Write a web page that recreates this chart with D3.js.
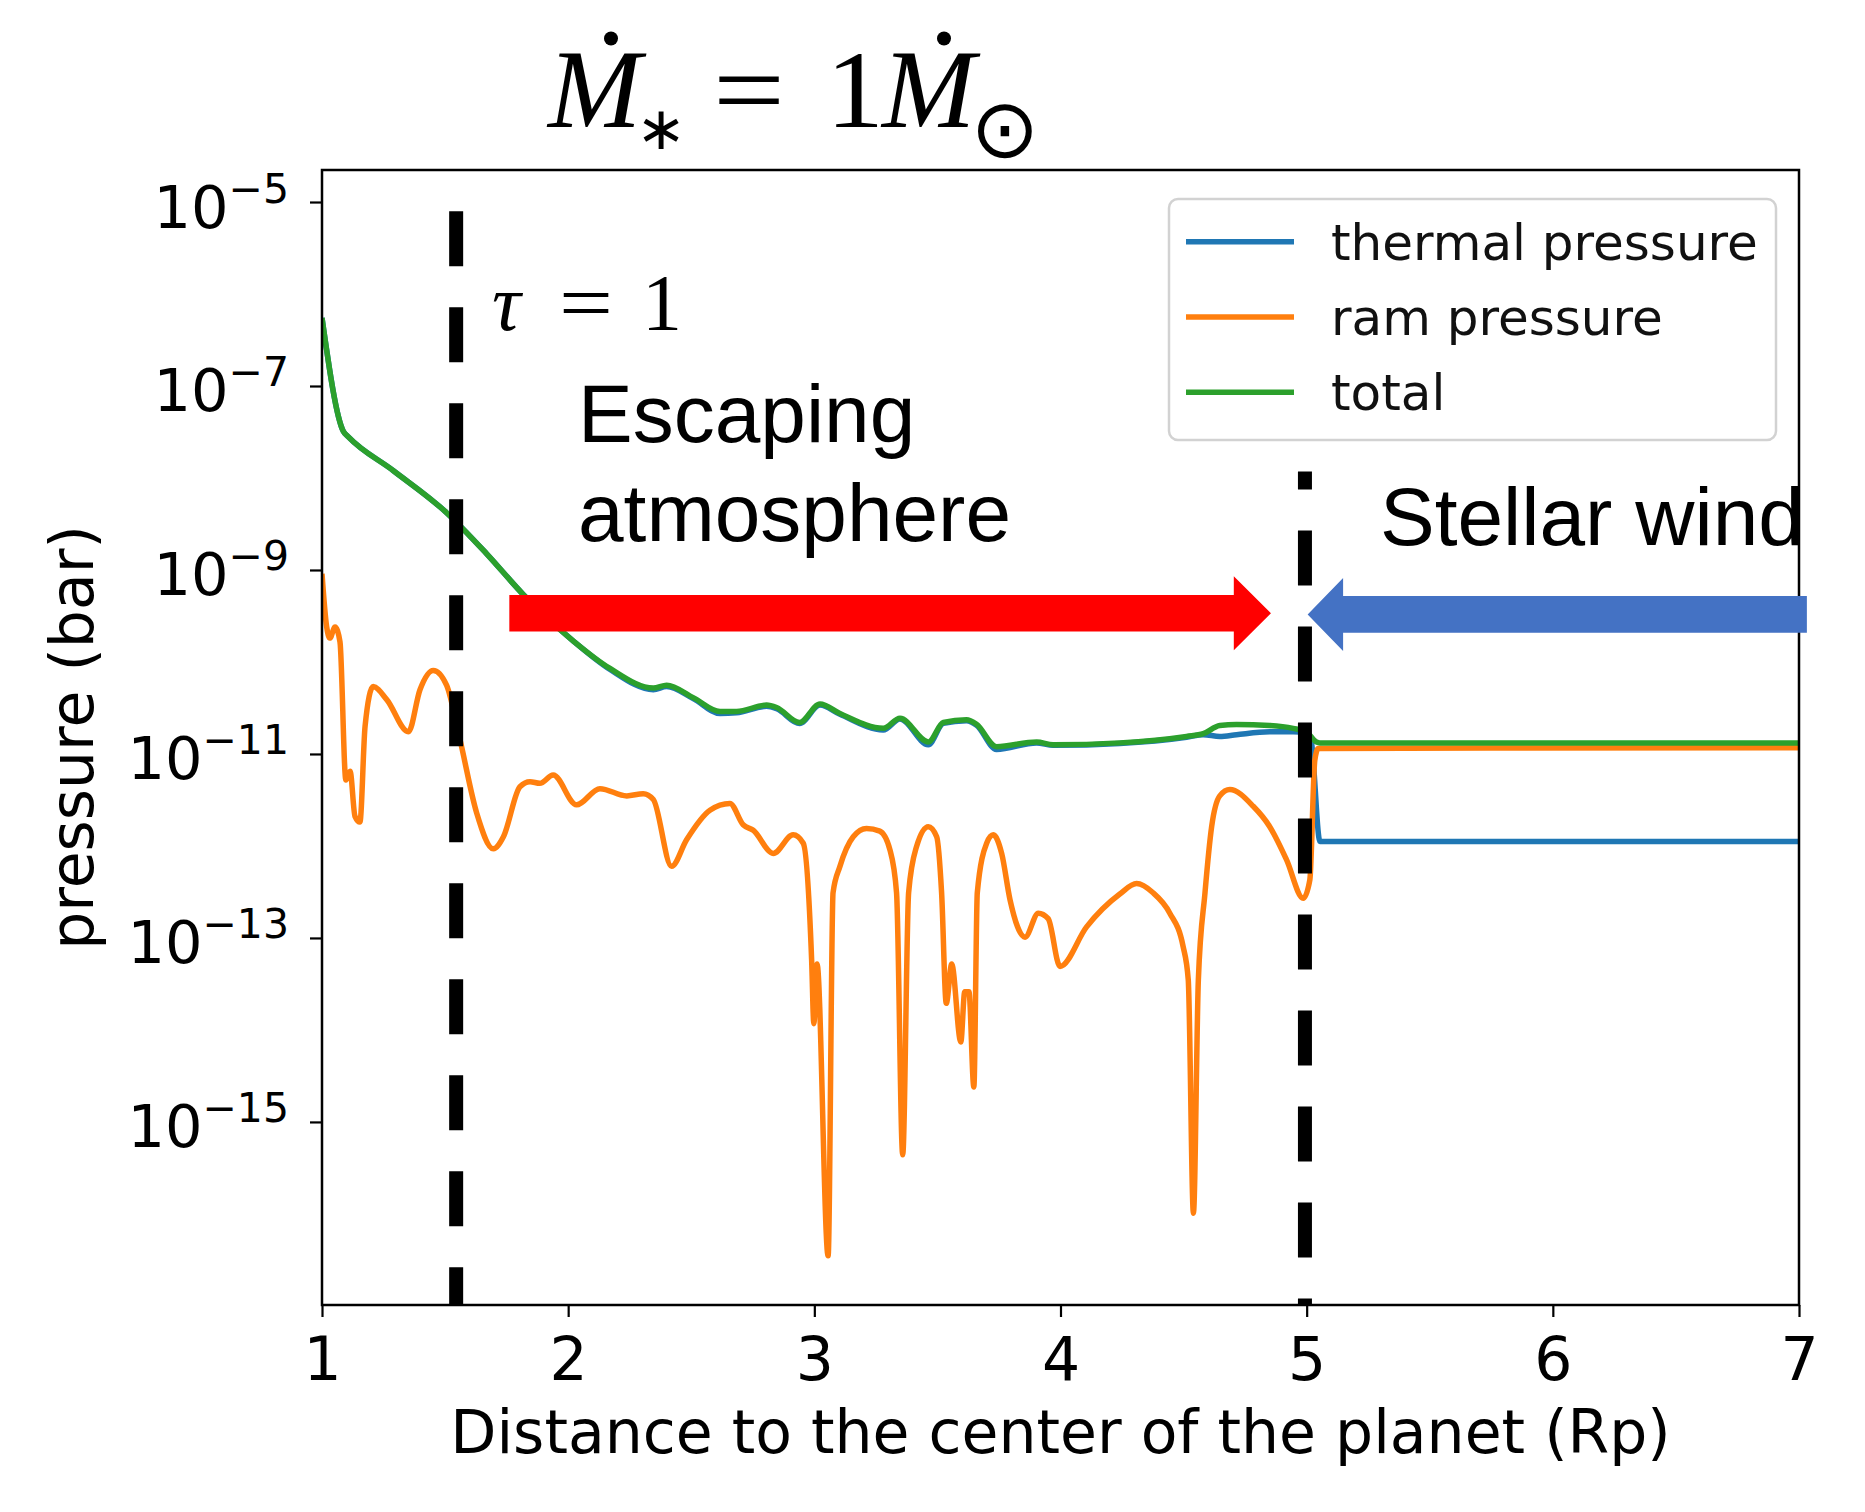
<!DOCTYPE html>
<html>
<head>
<meta charset="utf-8">
<script src="https://cdn.jsdelivr.net/npm/d3@7"></script>
<style>
  body { margin: 0; background: #fff; }
  svg { display: block; }
</style>
</head>
<body>
<div id="chart"></div>
<script>
// ---- data (x in Rp, pressure in bar) ----
var xTicks = [1, 2, 3, 4, 5, 6, 7];
var yTickExps = [-5, -7, -9, -11, -13, -15];

var totalX = [1.0, 1.087, 1.107, 1.29, 1.506, 1.669, 1.818, 2.02, 2.17, 2.346, 2.40, 2.508, 2.617, 2.684, 2.806, 2.847, 2.94, 3.023, 3.104, 3.28, 3.348, 3.463, 3.524, 3.618, 3.659, 3.74, 3.903, 3.97, 4.241, 4.512, 4.58, 4.647, 4.715, 4.85, 4.945, 4.999, 5.04, 5.054, 7.0];
var totalP = [5.5e-7, 3.2e-8, 2.8e-8, 1.2e-8, 4.2e-9, 1.5e-9, 5.4e-10, 1.7e-10, 8.5e-11, 5.2e-11, 5.6e-11, 4.1e-11, 2.9e-11, 2.9e-11, 3.4e-11, 3.2e-11, 2.2e-11, 3.5e-11, 2.75e-11, 1.9e-11, 2.45e-11, 1.35e-11, 2.2e-11, 2.35e-11, 2.1e-11, 1.2e-11, 1.35e-11, 1.26e-11, 1.32e-11, 1.55e-11, 1.66e-11, 2.04e-11, 2.09e-11, 2.04e-11, 1.9e-11, 1.74e-11, 1.35e-11, 1.32e-11, 1.32e-11];

var thermalX = [1.0, 1.087, 1.107, 1.29, 1.506, 1.669, 1.818, 2.02, 2.17, 2.346, 2.40, 2.508, 2.617, 2.684, 2.806, 2.847, 2.94, 3.023, 3.104, 3.28, 3.348, 3.463, 3.524, 3.618, 3.659, 3.74, 3.903, 3.97, 4.241, 4.512, 4.58, 4.647, 4.715, 4.85, 4.945, 4.999, 5.018, 5.054, 7.0];
var thermalP = [5.5e-7, 3.2e-8, 2.8e-8, 1.2e-8, 4.2e-9, 1.5e-9, 5.4e-10, 1.7e-10, 8.3e-11, 5.0e-11, 5.4e-11, 4.0e-11, 2.75e-11, 2.8e-11, 3.3e-11, 3.1e-11, 2.14e-11, 3.4e-11, 2.7e-11, 1.82e-11, 2.4e-11, 1.26e-11, 2.15e-11, 2.3e-11, 2.05e-11, 1.12e-11, 1.32e-11, 1.24e-11, 1.3e-11, 1.52e-11, 1.62e-11, 1.55e-11, 1.62e-11, 1.74e-11, 1.74e-11, 1.7e-11, 1.41e-11, 1.12e-12, 1.12e-12];

var ramX = [1.0, 1.019, 1.032, 1.053, 1.073, 1.097, 1.114, 1.134, 1.154, 1.175, 1.208, 1.263, 1.351, 1.398, 1.452, 1.506, 1.561, 1.628, 1.696, 1.737, 1.804, 1.845, 1.885, 1.939, 2.034, 2.129, 2.238, 2.305, 2.346, 2.42, 2.481, 2.576, 2.657, 2.711, 2.752, 2.833, 2.914, 2.955, 2.989, 2.998, 3.011, 3.056, 3.076, 3.104, 3.158, 3.212, 3.266, 3.307, 3.334, 3.359, 3.383, 3.415, 3.463, 3.497, 3.517, 3.536, 3.558, 3.595, 3.611, 3.628, 3.648, 3.662, 3.70, 3.727, 3.761, 3.795, 3.856, 3.91, 3.95, 3.998, 4.106, 4.241, 4.309, 4.376, 4.444, 4.498, 4.519, 4.54, 4.56, 4.587, 4.614, 4.647, 4.688, 4.783, 4.85, 4.918, 4.986, 5.013, 5.033, 5.047, 7.0];
var ramP = [9.1e-10, 2.4e-10, 1.82e-10, 2.4e-10, 1.66e-10, 5.2e-12, 6.5e-12, 2.1e-12, 1.82e-12, 2.0e-11, 5.4e-11, 3.9e-11, 1.74e-11, 5.0e-11, 8.1e-11, 5.6e-11, 1.41e-11, 2.3e-12, 9.3e-13, 1.26e-12, 4.4e-12, 5.0e-12, 4.8e-12, 5.9e-12, 2.8e-12, 4.2e-12, 3.5e-12, 3.7e-12, 3.2e-12, 6.0e-13, 1.17e-12, 2.45e-12, 2.9e-12, 1.7e-12, 1.48e-12, 8.3e-13, 1.32e-12, 1.07e-12, 5.8e-14, 1.17e-14, 5.2e-14, 3.5e-17, 3.1e-13, 6.0e-13, 1.26e-12, 1.55e-12, 1.45e-12, 9.1e-13, 3.1e-13, 4.4e-16, 3.1e-13, 9.8e-13, 1.62e-12, 1.26e-12, 3.1e-13, 1.95e-14, 5.2e-14, 7.4e-15, 2.6e-14, 2.6e-14, 2.4e-15, 3.1e-13, 1.07e-12, 1.32e-12, 8.3e-13, 2.6e-13, 1.02e-13, 1.86e-13, 1.62e-13, 4.9e-14, 1.32e-13, 3.0e-13, 3.9e-13, 3.1e-13, 1.86e-13, 8.1e-14, 3.5e-14, 1.02e-16, 3.5e-14, 3.1e-13, 1.62e-12, 3.5e-12, 4.1e-12, 2.7e-12, 1.62e-12, 7.1e-13, 2.7e-13, 4.3e-13, 8.5e-12, 1.15e-11, 1.17e-11];

var legendLabels = ["thermal pressure", "ram pressure", "total"];
var seriesColors = ["#1f77b4", "#ff7f0e", "#2ca02c"];

// annotation positions (data units)
var tauX = 1.545, tauTop = Math.pow(10, -5.1);
var boundX = 4.993, boundTop = Math.pow(10, -7.93);
var escArrow = { from: 1.761, base: 4.704, tip: 4.855, p: 3.39e-10 };
var windArrow = { from: 7.032, base: 5.148, tip: 5.004, p: 3.29e-10 };

var W = 1865, H = 1512;
var margin = { top: 170, right: 66, bottom: 207, left: 322 };
var yMin = Math.pow(10, -16.99), yMax = Math.pow(10, -4.652);

var svg = d3.select("#chart").append("svg")
  .attr("width", W)
  .attr("height", H);

var x = d3.scaleLinear().domain([1, 7]).range([margin.left, W - margin.right]);
var y = d3.scaleLog().domain([yMin, yMax]).range([H - margin.bottom, margin.top]);

svg.append("defs").append("clipPath").attr("id", "plotclip")
  .append("rect")
  .attr("x", margin.left).attr("y", margin.top)
  .attr("width", x(7) - x(1)).attr("height", y(yMin) - y(yMax));

// ---- curves ----
var line = d3.line()
  .x(function(d) { return x(d[0]); })
  .y(function(d) { return y(d[1]); })
  .curve(d3.curveMonotoneX);

var series = [
  d3.zip(thermalX, thermalP),
  d3.zip(ramX, ramP),
  d3.zip(totalX, totalP)
];

svg.append("g")
  .attr("clip-path", "url(#plotclip)")
  .selectAll("path")
  .data(series)
  .enter().append("path")
  .attr("d", line)
  .attr("fill", "none")
  .attr("stroke", function(d, i) { return seriesColors[i]; })
  .attr("stroke-width", 5.5)
  .attr("stroke-linejoin", "round");

// ---- axes ----
var xAxis = svg.append("g")
  .attr("transform", "translate(0," + y(yMin) + ")")
  .call(d3.axisBottom(x).tickValues(xTicks).tickSize(12).tickFormat(d3.format("d")));
xAxis.select(".domain").remove();
xAxis.selectAll("line").attr("stroke", "#000").attr("stroke-width", 2.2);
xAxis.selectAll("text")
  .attr("y", 75).attr("dy", null)
  .attr("fill", "#000")
  .style("font-family", "DejaVu Sans")
  .style("font-size", "60px");

var yAxis = svg.append("g")
  .attr("transform", "translate(" + x(1) + ",0)")
  .call(d3.axisLeft(y).tickValues(yTickExps.map(function(e) { return Math.pow(10, e); }))
    .tickSize(12).tickFormat(""));
yAxis.select(".domain").remove();
yAxis.selectAll("line").attr("stroke", "#000").attr("stroke-width", 2.2);
yAxis.selectAll(".tick").each(function(d) {
  var e = Math.round(Math.log10(d));
  var t = d3.select(this).append("text")
    .attr("x", -33).attr("y", 25)
    .attr("text-anchor", "end")
    .attr("fill", "#000")
    .style("font-family", "DejaVu Sans");
  t.append("tspan").style("font-size", "59px").text("10");
  t.append("tspan").attr("dy", -25).style("font-size", "41px").text("\u2212" + Math.abs(e));
});

// frame
svg.append("rect")
  .attr("x", x(1)).attr("y", y(yMax))
  .attr("width", x(7) - x(1)).attr("height", y(yMin) - y(yMax))
  .attr("fill", "none").attr("stroke", "#000").attr("stroke-width", 2.5);

svg.append("text")
  .attr("x", (x(1) + x(7)) / 2).attr("y", 1453)
  .attr("text-anchor", "middle")
  .style("font-family", "DejaVu Sans").style("font-size", "60px")
  .text("Distance to the center of the planet (Rp)");

svg.append("text")
  .attr("transform", "translate(93," + (y(yMin) + y(yMax)) / 2 + ") rotate(-90)")
  .attr("text-anchor", "middle")
  .style("font-family", "DejaVu Sans").style("font-size", "60px")
  .text("pressure (bar)");

// ---- legend ----
var legend = svg.append("g");
legend.append("rect")
  .attr("x", 1169).attr("y", 199).attr("width", 607).attr("height", 241)
  .attr("rx", 9)
  .attr("fill", "#fff").attr("fill-opacity", 0.8)
  .attr("stroke", "#d2d2d2").attr("stroke-width", 2.5);
var rows = legend.selectAll(".row")
  .data(legendLabels)
  .enter().append("g")
  .attr("transform", function(d, i) { return "translate(0," + (241.7 + i * 75.3) + ")"; });
rows.append("line")
  .attr("x1", 1186).attr("x2", 1294)
  .attr("stroke", function(d, i) { return seriesColors[i]; })
  .attr("stroke-width", 5.5);
rows.append("text")
  .attr("x", 1331).attr("y", 18)
  .style("font-family", "DejaVu Sans").style("font-size", "50px")
  .attr("fill", "#111")
  .text(function(d) { return d; });

// ---- annotations ----
function vdash(xv, top, offset, w) {
  svg.append("line")
    .attr("x1", x(xv)).attr("x2", x(xv))
    .attr("y1", y(top)).attr("y2", y(yMin))
    .attr("stroke", "#000").attr("stroke-width", w)
    .attr("stroke-dasharray", "55,41")
    .attr("stroke-dashoffset", offset);
}
vdash(tauX, tauTop, 0, 14);
vdash(boundX, boundTop, 37, 14);

function arrow(a, half, headHalf, color) {
  var yc = y(a.p);
  var pts = [
    [x(a.from), yc - half], [x(a.base), yc - half], [x(a.base), yc - headHalf],
    [x(a.tip), yc], [x(a.base), yc + headHalf], [x(a.base), yc + half], [x(a.from), yc + half]
  ];
  svg.append("polygon")
    .attr("points", pts.map(function(p) { return p.join(","); }).join(" "))
    .attr("fill", color);
}
arrow(escArrow, 18.3, 37, "#ff0000");
arrow(windArrow, 18.3, 36.5, "#4472c4");

var sans = "Liberation Sans, Arial, sans-serif";
svg.append("text").attr("x", 578).attr("y", 442)
  .style("font-family", sans).style("font-size", "82px").text("Escaping");
svg.append("text").attr("x", 578).attr("y", 541)
  .style("font-family", sans).style("font-size", "82px").text("atmosphere");
svg.append("text").attr("x", 1380).attr("y", 545)
  .style("font-family", sans).style("font-size", "82px").text("Stellar wind");

// tau = 1
var serif = "Liberation Serif, Times New Roman, serif";
var tau = svg.append("g").style("font-family", serif).style("font-size", "80px");
tau.append("text").attr("x", 492).attr("y", 330).style("font-style", "italic").text("\u03c4");
tau.append("text").attr("x", 559).attr("y", 330).attr("textLength", 54)
  .attr("lengthAdjust", "spacingAndGlyphs").text("=");
tau.append("text").attr("x", 642).attr("y", 330).text("1");

// title  M-dot_* = 1 M-dot_sun
var title = svg.append("g").style("font-family", serif);
title.append("text").attr("x", 548).attr("y", 127).style("font-size", "112px")
  .style("font-style", "italic").text("M");
title.append("text").attr("x", 661).attr("y", 128).attr("text-anchor", "middle")
  .attr("dominant-baseline", "central")
  .style("font-family", "DejaVu Sans").style("font-size", "60px").text("\u2217");
title.append("text").attr("x", 713).attr("y", 127).attr("textLength", 72)
  .attr("lengthAdjust", "spacingAndGlyphs").style("font-size", "110px").text("=");
title.append("text").attr("x", 826).attr("y", 127).attr("textLength", 58)
  .attr("lengthAdjust", "spacingAndGlyphs").style("font-size", "110px").text("1");
title.append("text").attr("x", 882).attr("y", 127).style("font-size", "112px")
  .style("font-style", "italic").text("M");
title.append("text").attr("x", 1005).attr("y", 128).attr("text-anchor", "middle")
  .attr("dominant-baseline", "central")
  .style("font-family", "DejaVu Sans").style("font-size", "82px").text("\u2299");
title.selectAll(".mdot")
  .data([611, 944])
  .enter().append("circle")
  .attr("cx", function(d) { return d; }).attr("cy", 38.5).attr("r", 7)
  .attr("fill", "#000");
</script>
</body>
</html>
